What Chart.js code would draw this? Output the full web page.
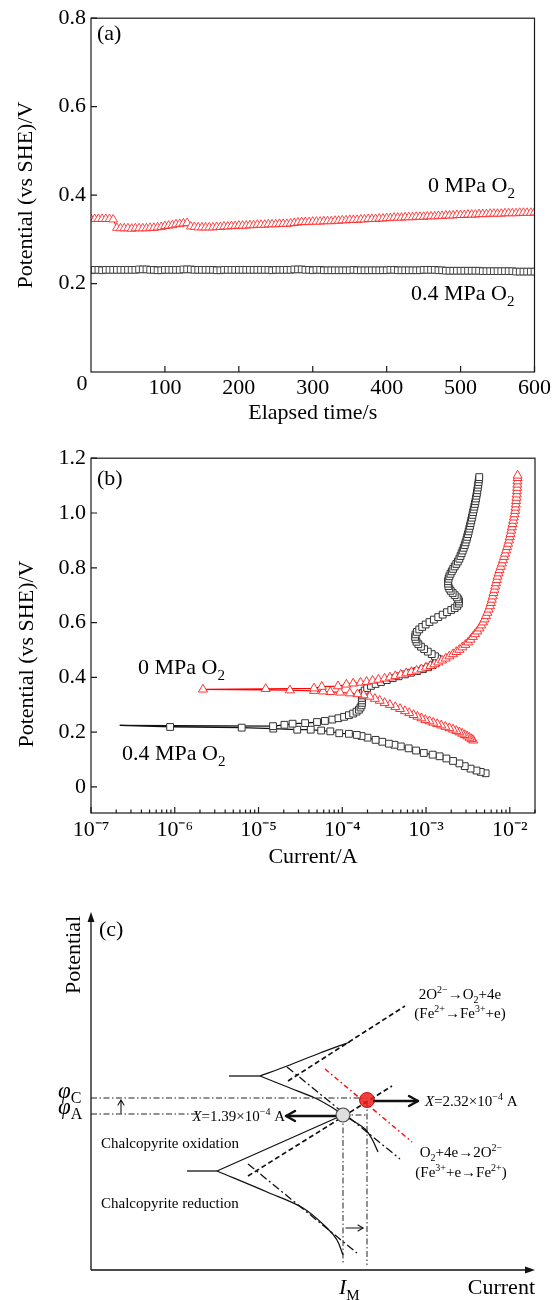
<!DOCTYPE html>
<html><head><meta charset="utf-8">
<script src="https://cdn.jsdelivr.net/npm/chart.js@4"></script>
<style>
html,body{margin:0;padding:0;background:#fff;}
body{width:554px;height:1300px;position:relative;overflow:hidden;}
canvas{position:absolute;left:0;}
</style></head><body>
<canvas id="ca" width="554" height="440" style="top:0px"></canvas>
<canvas id="cb" width="554" height="440" style="top:440px"></canvas>
<canvas id="cc" width="554" height="420" style="top:880px"></canvas>
<script>
const FONT = "'Liberation Serif','Times New Roman',serif";
Chart.defaults.font.family = FONT;
Chart.defaults.color = '#000';

// ---------- Panel (a): open-circuit potential vs time ----------
const timeA = [0,5,10,15,20,25,30,35,40,45,50,55,60,65,70,75,80,85,90,95,
 100,105,110,115,120,125,130,135,140,145,150,155,160,165,170,175,180,185,190,195,
 200,205,210,215,220,225,230,235,240,245,250,255,260,265,270,275,280,285,290,295,
 300,305,310,315,320,325,330,335,340,345,350,355,360,365,370,375,380,385,390,395,
 400,405,410,415,420,425,430,435,440,445,450,455,460,465,470,475,480,485,490,495,
 500,505,510,515,520,525,530,535,540,545,550,555,560,565,570,575,580,585,590,595,600];
const potA_0MPa = [
 .346,.346,.346,.346,.346,.346,.345,.326,.325,.325,
 .325,.324,.325,.325,.325,.325,.326,.326,.327,.328,
 .330,.331,.332,.334,.335,.336,.337,.329,.328,.327,
 .327,.327,.327,.327,.328,.328,.329,.329,.330,.330,
 .331,.331,.331,.332,.332,.333,.333,.333,.334,.334,
 .334,.335,.335,.335,.336,.337,.338,.339,.339,.339,
 .340,.340,.340,.341,.341,.341,.342,.342,.343,.343,
 .344,.344,.344,.345,.345,.346,.346,.346,.347,.347,
 .348,.348,.349,.349,.349,.350,.350,.350,.351,.351,
 .351,.352,.352,.352,.353,.353,.354,.354,.354,.355,
 .355,.355,.356,.356,.356,.357,.357,.357,.358,.358,
 .358,.358,.359,.359,.359,.359,.360,.360,.360,.360,.361];
const potA_04MPa = [
 .230,.231,.231,.230,.231,.231,.231,.231,.231,.231,
 .231,.231,.231,.232,.232,.232,.231,.231,.230,.230,
 .231,.231,.231,.231,.231,.232,.232,.232,.231,.231,
 .231,.231,.231,.231,.230,.230,.231,.231,.231,.231,
 .231,.231,.231,.231,.231,.231,.231,.231,.231,.230,
 .231,.231,.231,.231,.231,.232,.232,.232,.231,.231,
 .230,.231,.231,.230,.230,.230,.230,.230,.230,.230,
 .230,.231,.230,.230,.230,.230,.230,.230,.230,.230,
 .230,.231,.231,.230,.230,.230,.230,.230,.230,.230,
 .231,.231,.231,.231,.230,.230,.229,.229,.229,.229,
 .229,.229,.229,.229,.229,.229,.228,.228,.228,.228,
 .228,.228,.228,.228,.228,.227,.227,.227,.227,.227,.227];
const xTicksA = [100,200,300,400,500,600];
const yTicksA = [0.2,0.4,0.6,0.8];

// ---------- Panel (b): polarization curves ----------
const curB_0MPa = [3.66e-3,3.5e-3,3.3e-3,3.1e-3,2.9e-3,2.7e-3,2.5e-3,2.3e-3,2.1e-3,1.9e-3,
 1.7e-3,1.52e-3,1.36e-3,1.22e-3,1.1e-3,9.8e-4,8.8e-4,7.9e-4,7.1e-4,6.3e-4,
 5.6e-4,4.9e-4,4.3e-4,3.7e-4,3.2e-4,2.8e-4,2.45e-4,2.12e-4,1.8e-4,1.52e-4,
 1.23e-4,9.4e-5,7.2e-5,5.9e-5,4.6e-5,2.37e-5,2.17e-6,
 1.22e-5,4.6e-5,5.7e-5,8.9e-5,1.12e-4,1.35e-4,1.65e-4,1.95e-4,2.3e-4,2.7e-4,
 3.2e-4,3.7e-4,4.3e-4,5e-4,5.8e-4,6.7e-4,7.7e-4,8.8e-4,1e-3,1.13e-3,
 1.26e-3,1.4e-3,1.55e-3,1.72e-3,1.9e-3,2.1e-3,2.3e-3,2.5e-3,2.72e-3,2.95e-3,
 3.18e-3,3.4e-3,3.62e-3,3.85e-3,4.1e-3,4.35e-3,4.58e-3,4.8e-3,5e-3,5.2e-3,
 5.4e-3,5.6e-3,5.8e-3,5.95e-3,6.1e-3,6.25e-3,6.4e-3,6.55e-3,6.7e-3,6.85e-3,
 7e-3,7.15e-3,7.35e-3,7.55e-3,7.8e-3,8.05e-3,8.3e-3,8.55e-3,8.8e-3,9.05e-3,
 9.3e-3,9.55e-3,9.8e-3,1e-2,1.02e-2,1.04e-2,1.06e-2,1.08e-2,1.1e-2,1.12e-2,
 1.14e-2,1.16e-2,1.17e-2,1.18e-2,1.19e-2,1.2e-2,1.21e-2,1.22e-2,1.225e-2,1.23e-2,
 1.235e-2,1.24e-2,1.24e-2];
const potB_0MPa = [0.17,0.175,0.18,0.185,0.19,0.195,0.2,0.205,0.21,0.215,
 0.22,0.225,0.23,0.235,0.24,0.245,0.251,0.257,0.263,0.27,
 0.277,0.285,0.292,0.3,0.307,0.315,0.322,0.33,0.335,0.339,
 0.342,0.345,0.347,0.349,0.351,0.353,0.356,
 0.358,0.36,0.366,0.368,0.374,0.378,0.381,0.384,0.388,0.392,
 0.396,0.4,0.405,0.41,0.415,0.42,0.425,0.43,0.436,0.442,
 0.448,0.455,0.462,0.469,0.477,0.485,0.493,0.501,0.51,0.519,
 0.528,0.538,0.548,0.558,0.568,0.579,0.59,0.601,0.612,0.624,
 0.636,0.648,0.66,0.672,0.684,0.696,0.708,0.72,0.732,0.744,
 0.756,0.768,0.78,0.792,0.804,0.816,0.828,0.84,0.852,0.864,
 0.876,0.888,0.9,0.912,0.924,0.936,0.948,0.96,0.972,0.984,
 0.996,1.008,1.02,1.032,1.044,1.056,1.068,1.08,1.092,1.104,
 1.116,1.128,1.137];
const curB_04MPa = [5.15e-3,4.5e-3,4e-3,3.4e-3,2.9e-3,2.5e-3,2.1e-3,1.75e-3,1.45e-3,1.2e-3,
 9.4e-4,7.6e-4,6.2e-4,5e-4,4.2e-4,3.6e-4,3e-4,2.5e-4,2e-4,1.7e-4,
 1.49e-4,1.2e-4,9.2e-5,7.2e-5,5.6e-5,4.2e-5,2.9e-5,1.5e-5,6.3e-6,8.8e-7,2.2e-7,
 1.49e-5,2.04e-5,2.55e-5,3.6e-5,5e-5,6.2e-5,7.6e-5,9e-5,1.05e-4,1.2e-4,
 1.35e-4,1.48e-4,1.58e-4,1.65e-4,1.7e-4,1.72e-4,1.72e-4,1.71e-4,1.72e-4,1.76e-4,
 1.85e-4,1.98e-4,2.2e-4,2.5e-4,2.9e-4,3.4e-4,4e-4,4.7e-4,5.6e-4,6.6e-4,
 7.8e-4,9.2e-4,1.06e-3,1.2e-3,1.31e-3,1.37e-3,1.36e-3,1.28e-3,1.17e-3,1.05e-3,
 9.5e-4,8.7e-4,8.1e-4,7.7e-4,7.5e-4,7.4e-4,7.5e-4,7.8e-4,8.3e-4,9e-4,
 9.9e-4,1.1e-3,1.24e-3,1.4e-3,1.58e-3,1.78e-3,2e-3,2.2e-3,2.36e-3,2.46e-3,
 2.48e-3,2.43e-3,2.33e-3,2.2e-3,2.08e-3,1.97e-3,1.9e-3,1.85e-3,1.83e-3,1.83e-3,
 1.86e-3,1.9e-3,1.96e-3,2.03e-3,2.11e-3,2.2e-3,2.3e-3,2.4e-3,2.5e-3,
 2.58e-3,2.66e-3,2.74e-3,2.82e-3,2.9e-3,2.97e-3,3.04e-3,3.1e-3,3.17e-3,3.23e-3,
 3.29e-3,3.35e-3,3.41e-3,3.47e-3,3.53e-3,3.59e-3,3.65e-3,3.71e-3,3.77e-3,3.83e-3,
 3.89e-3,3.95e-3,4e-3,4.05e-3,4.1e-3,4.15e-3,4.2e-3,4.24e-3,4.28e-3,4.32e-3];
const potB_04MPa = [0.05,0.055,0.06,0.067,0.076,0.086,0.095,0.104,0.112,0.118,
 0.124,0.133,0.141,0.148,0.154,0.158,0.165,0.172,0.18,0.186,
 0.19,0.194,0.196,0.203,0.206,0.209,0.209,0.213,0.2165,0.219,0.2248,
 0.222,0.227,0.231,0.233,0.237,0.241,0.246,0.251,0.256,0.262,
 0.268,0.275,0.282,0.29,0.298,0.307,0.316,0.325,0.334,0.343,
 0.352,0.361,0.369,0.376,0.383,0.39,0.397,0.404,0.411,0.417,
 0.423,0.43,0.437,0.445,0.453,0.461,0.469,0.477,0.485,0.494,
 0.503,0.512,0.521,0.53,0.539,0.548,0.557,0.566,0.575,0.584,
 0.593,0.602,0.611,0.62,0.629,0.638,0.646,0.653,0.661,0.669,
 0.677,0.685,0.692,0.7,0.708,0.716,0.724,0.733,0.742,0.751,
 0.76,0.769,0.778,0.787,0.796,0.805,0.814,0.823,0.833,
 0.843,0.853,0.863,0.873,0.883,0.893,0.903,0.913,0.923,0.933,
 0.943,0.953,0.963,0.973,0.983,0.993,1.003,1.013,1.023,1.033,
 1.043,1.053,1.063,1.073,1.083,1.093,1.103,1.113,1.123,1.131];
const decadesB = [-7,-6,-5,-4,-3,-2];
const yTicksB = [0,0.2,0.4,0.6,0.8,1.0,1.2];

// ---------- Panel (c): schematic (units: schematic current / potential) ----------
const forkO2_flat = [[138,194],[169,194]];
const forkO2_upper = [[169,194],[196,204],[229,217],[259,228]];
const forkO2_lower = [[169,194],[199,182],[224,172],[242,162],[252,155],[264,148],[274,141],[281,131],[287,118]];
const forkCp_flat = [[96,99],[126,99]];
const forkCp_upper = [[126,99],[252,155]];
const forkCp_lower = [[126,99],[176,78],[212,62],[236,42],[246,30],[252,15]];
const tafelO2_anodic = [[197,189],[314,264]];
const tafelO2_cathodic = [[196,203],[309,111]];
const tafelCp_anodic = [[157,94],[301,184]];
const tafelCp_cathodic = [[157,106],[266,17]];
const tafelShifted = [[234,201],[321,128]];
const refPhiC = [[0,172],[276,172]];
const refPhiA = [[0,156],[106,156]];
const refIM = [[252,155],[252,5]];
const refIX = [[276,169],[276,5]];
const refShort = [[252,155],[276,155]];
const pointMixed = [[252,155]];
const pointShifted = [[276,170]];
const arrowsBold = [[244,154,195,154],[283,169,327,169]];
const arrowsThin = [[30,157,30,170],[255,42,272,42]];

// ---------- helpers ----------
function pairs(xs, ys){ return xs.map((x,i)=>({x:x, y:ys[i]})); }
function pts(a){ return a.map(p=>({x:p[0], y:p[1]})); }
const SUP = {'-':'\u207B','0':'\u2070','1':'\u00B9','2':'\u00B2','3':'\u00B3','4':'\u2074','5':'\u2075','6':'\u2076','7':'\u2077','8':'\u2078','9':'\u2079'};
function supStr(n){ return String(n).split('').map(c=>SUP[c]).join(''); }

function drawRich(ctx, parts, x, yc, size, align){
  const small = Math.round(size*0.68);
  const f = p => (p.it?'italic ':'') + ((p.sub||p.sup)?small:(p.size||size)) + 'px ' + FONT;
  let w = 0;
  parts.forEach(p=>{ ctx.font=f(p); w += ctx.measureText(p.t).width; });
  let cx = align==='right' ? x-w : (align==='center' ? x-w/2 : x);
  const base = yc + size*0.34;
  ctx.textBaseline='alphabetic'; ctx.textAlign='left'; ctx.fillStyle='#000';
  parts.forEach(p=>{
    ctx.font=f(p);
    const dy = p.sub ? size*0.24 : (p.sup ? -size*0.40 : 0);
    ctx.fillText(p.t, cx, base+dy);
    cx += ctx.measureText(p.t).width;
  });
}

function frameTicks(xKind, yKind){
  return { id:'frameTicks', afterDraw(chart){
    const ctx = chart.ctx, a = chart.chartArea, sx = chart.scales.x, sy = chart.scales.y;
    ctx.save();
    ctx.strokeStyle='#1a1a1a'; ctx.lineWidth=1.2;
    ctx.strokeRect(a.left, a.top, a.right-a.left, a.bottom-a.top);
    ctx.beginPath();
    sx.ticks.forEach(t=>{
      const k = xKind(t.value); if(!k) return;
      const p = sx.getPixelForValue(t.value);
      if (p < a.left-0.5 || p > a.right+0.5) return;
      const L = k==='major' ? 6 : 3.5;
      ctx.moveTo(p, a.bottom); ctx.lineTo(p, a.bottom-L);
    });
    sy.ticks.forEach(t=>{
      const k = yKind(t.value); if(!k) return;
      const p = sy.getPixelForValue(t.value);
      if (p < a.top-0.5 || p > a.bottom+0.5) return;
      ctx.moveTo(a.left, p); ctx.lineTo(a.left+6, p);
    });
    ctx.stroke();
    ctx.restore();
  }};
}
function textPlugin(items){
  return { id:'texts', afterDraw(chart){
    const ctx = chart.ctx;
    ctx.save();
    items.forEach(it=>{
      if (it.rot){
        ctx.save(); ctx.translate(it.x, it.y); ctx.rotate(-Math.PI/2);
        ctx.font = it.size+'px '+FONT; ctx.textAlign='center'; ctx.textBaseline='middle'; ctx.fillStyle='#000';
        ctx.fillText(it.text, 0, 0); ctx.restore();
      } else {
        drawRich(ctx, it.parts, it.x, it.y, it.size, it.align||'left');
      }
    });
    ctx.restore();
  }};
}
const near = (arr, v) => arr.some(t => Math.abs(t-v) < 1e-6);

// ---------- Chart (a) ----------
new Chart(document.getElementById('ca'), {
  type:'line',
  data:{ datasets:[
    {label:'0 MPa O2', data:pairs(timeA, potA_0MPa), borderColor:'#ff0000', borderWidth:1,
     pointStyle:'triangle', pointRadius:5, pointBorderColor:'rgba(255,30,30,0.9)', pointBackgroundColor:'#ffffff', pointBorderWidth:0.9},
    {label:'0.4 MPa O2', data:pairs(timeA, potA_04MPa), borderColor:'#222', borderWidth:1,
     pointStyle:'rect', pointRadius:4.7, pointBorderColor:'#333', pointBackgroundColor:'#ffffff', pointBorderWidth:0.9}
  ]},
  options:{
    responsive:false, animation:false, events:[],
    layout:{padding:{left:0,right:19,top:14,bottom:0}},
    plugins:{legend:{display:false}, tooltip:{enabled:false}},
    scales:{
      x:{type:'linear', min:0, max:600,
         grid:{display:false, drawTicks:false}, border:{display:false},
         ticks:{stepSize:100, padding:3, font:{size:22}, autoSkip:false, maxRotation:0,
                callback:v=> xTicksA.includes(v) ? String(v) : ''},
         title:{display:true, text:'Elapsed time/s', font:{size:22}, padding:{top:0,bottom:14}},
         afterFit:s=>{ s.height = 68; }},
      y:{type:'linear', min:0, max:0.8,
         grid:{display:false, drawTicks:false}, border:{display:false},
         ticks:{stepSize:0.2, padding:5, font:{size:22},
                callback:v=> near(yTicksA, v) ? v.toFixed(1) : ''},
         title:{display:true, text:'Potential (vs SHE)/V', font:{size:22}, padding:{top:13,bottom:0}},
         afterFit:s=>{ s.width = 91; }}
    }
  },
  plugins:[
    frameTicks(v=> xTicksA.includes(v) ? 'major' : null, v=> near(yTicksA, v) ? 'major' : null),
    textPlugin([
      {parts:[{t:'(a)'}], x:97, y:33, size:22},
      {parts:[{t:'0 MPa O'},{t:'2',sub:true}], x:428, y:185, size:22},
      {parts:[{t:'0.4 MPa O'},{t:'2',sub:true}], x:411, y:293, size:22},
      {parts:[{t:'0'}], x:82, y:383, size:22, align:'center'}
    ])
  ]
});

// ---------- Chart (b) ----------
function logKind(v){
  const e = Math.log10(v), r = Math.round(e);
  if (Math.abs(e-r) < 1e-6) return decadesB.includes(r) ? 'major' : null;
  const s = v / Math.pow(10, Math.floor(e));
  return Math.abs(s-Math.round(s)) < 1e-6 ? 'minor' : null;
}
new Chart(document.getElementById('cb'), {
  type:'line',
  data:{ datasets:[
    {label:'0 MPa O2', data:pairs(curB_0MPa, potB_0MPa), borderColor:'#ff0000', borderWidth:1.2,
     pointStyle:'triangle', pointRadius:5.2, pointBorderColor:'rgba(255,40,40,0.95)', pointBackgroundColor:'#ffffff', pointBorderWidth:1},
    {label:'0.4 MPa O2', data:pairs(curB_04MPa, potB_04MPa), borderColor:'#111', borderWidth:1.2,
     pointStyle:'rect', pointRadius:c => (c.raw && c.raw.x < 5e-7) ? 0 : 4.8,
     pointBorderColor:'#333', pointBackgroundColor:'#ffffff', pointBorderWidth:1}
  ]},
  options:{
    responsive:false, animation:false, events:[],
    layout:{padding:{left:0,right:19,top:16,bottom:0}},
    plugins:{legend:{display:false}, tooltip:{enabled:false}},
    scales:{
      x:{type:'logarithmic', min:1e-7, max:0.02,
         grid:{display:false, drawTicks:false}, border:{display:false},
         ticks:{autoSkip:false, maxRotation:0, minRotation:0, padding:4, font:{size:22},
                callback:v=>{ const e=Math.log10(v), r=Math.round(e);
                  return (Math.abs(e-r)<1e-6 && decadesB.includes(r)) ? '10'+supStr(r) : ''; }},
         title:{display:true, text:'Current/A', font:{size:22}, padding:{top:0,bottom:10}},
         afterFit:s=>{ s.height = 67; }},
      y:{type:'linear', min:-0.095, max:1.2,
         grid:{display:false, drawTicks:false}, border:{display:false},
         ticks:{stepSize:0.2, includeBounds:false, padding:5, font:{size:22},
                callback:v=> near(yTicksB, v) ? (Math.abs(v)<1e-9 ? '0' : v.toFixed(1)) : ''},
         title:{display:false},
         afterFit:s=>{ s.width = 91; }}
    }
  },
  plugins:[
    frameTicks(logKind, v=> near(yTicksB, v) ? 'major' : null),
    textPlugin([
      {parts:[{t:'(b)'}], x:97, y:38, size:22},
      {parts:[{t:'0 MPa O'},{t:'2',sub:true}], x:138, y:227, size:22},
      {parts:[{t:'0.4 MPa O'},{t:'2',sub:true}], x:122, y:313, size:22},
      {rot:true, text:'Potential (vs SHE)/V', x:27, y:214, size:22}
    ])
  ]
});

// ---------- Chart (c) ----------
const solid = {borderColor:'#111', borderWidth:1.3, borderDash:[]};
const dashed = {borderColor:'#111', borderWidth:1.7, borderDash:[5,3]};
const dashDot = {borderColor:'#111', borderWidth:1.3, borderDash:[8,3,2,3]};
const refLine = {borderColor:'#222', borderWidth:1, borderDash:[6,2.5,1.5,2.5]};
function lineDS(arr, style, tension){
  return Object.assign({data:pts(arr), showLine:true, pointRadius:0, tension:tension||0, fill:false}, style);
}
const schematic = { id:'schematic', afterDraw(chart){
  const ctx = chart.ctx, sx = chart.scales.x, sy = chart.scales.y;
  const X = v=>sx.getPixelForValue(v), Y = v=>sy.getPixelForValue(v);
  ctx.save();
  ctx.strokeStyle='#111'; ctx.fillStyle='#111'; ctx.lineWidth=1.3;
  // axes
  ctx.beginPath(); ctx.moveTo(X(0), Y(0)); ctx.lineTo(X(0), Y(358)+4); ctx.stroke();
  ctx.beginPath(); ctx.moveTo(X(0), Y(0)); ctx.lineTo(X(444)-4, Y(0)); ctx.stroke();
  ctx.beginPath(); ctx.moveTo(X(0), Y(358)); ctx.lineTo(X(0)-3.5, Y(358)+10); ctx.lineTo(X(0)+3.5, Y(358)+10); ctx.closePath(); ctx.fill();
  ctx.beginPath(); ctx.moveTo(X(444), Y(0)); ctx.lineTo(X(444)-10, Y(0)-3.5); ctx.lineTo(X(444)-10, Y(0)+3.5); ctx.closePath(); ctx.fill();
  // arrows
  function arrow(a, w, hl, hw){
    const x1=X(a[0]), y1=Y(a[1]), x2=X(a[2]), y2=Y(a[3]);
    const ang = Math.atan2(y2-y1, x2-x1);
    ctx.lineWidth=w; ctx.lineCap='round'; ctx.lineJoin='round';
    ctx.beginPath(); ctx.moveTo(x1,y1); ctx.lineTo(x2,y2); ctx.stroke();
    ctx.beginPath();
    ctx.moveTo(x2 - hl*Math.cos(ang) + hw*Math.sin(ang), y2 - hl*Math.sin(ang) - hw*Math.cos(ang));
    ctx.lineTo(x2, y2);
    ctx.lineTo(x2 - hl*Math.cos(ang) - hw*Math.sin(ang), y2 - hl*Math.sin(ang) + hw*Math.cos(ang));
    ctx.stroke();
  }
  arrowsBold.forEach(a=>arrow(a, 2.4, 9, 5));
  arrowsThin.forEach(a=>arrow(a, 1.1, 5, 3));
  ctx.restore();
}};
new Chart(document.getElementById('cc'), {
  type:'scatter',
  data:{ datasets:[
    {data:pts(pointShifted), pointRadius:7.5, pointBackgroundColor:'rgba(238,30,30,0.85)', pointBorderColor:'rgba(200,0,0,0.9)', pointBorderWidth:1, showLine:false},
    {data:pts(pointMixed), pointRadius:7, pointBackgroundColor:'#dedede', pointBorderColor:'#444', pointBorderWidth:1.2, showLine:false},
    lineDS(forkO2_flat, solid), lineDS(forkO2_upper, solid, 0.3), lineDS(forkO2_lower, solid, 0.35),
    lineDS(forkCp_flat, solid), lineDS(forkCp_upper, solid), lineDS(forkCp_lower, solid, 0.35),
    lineDS(tafelO2_anodic, dashed), lineDS(tafelCp_anodic, dashed),
    lineDS(tafelO2_cathodic, dashDot), lineDS(tafelCp_cathodic, dashDot),
    lineDS(tafelShifted, {borderColor:'#ff1010', borderWidth:1.5, borderDash:[5,3,1.5,3]}),
    lineDS(refPhiC, refLine), lineDS(refPhiA, refLine), lineDS(refIM, refLine), lineDS(refIX, refLine), lineDS(refShort, refLine)
  ]},
  options:{
    responsive:false, animation:false, events:[],
    layout:{padding:{left:91,right:19,top:32,bottom:30}},
    plugins:{legend:{display:false}, tooltip:{enabled:false}},
    scales:{ x:{type:'linear', display:false, min:0, max:444}, y:{type:'linear', display:false, min:0, max:358} }
  },
  plugins:[ schematic, textPlugin([
    {rot:true, text:'Potential', x:74, y:75, size:22},
    {parts:[{t:'(c)'}], x:99, y:49, size:22},
    {parts:[{t:'\u03C6',it:true},{t:'C',sub:true}], x:58, y:210, size:23},
    {parts:[{t:'\u03C6',it:true},{t:'A',sub:true}], x:58, y:226, size:23},
    {parts:[{t:'X',it:true},{t:'=1.39\u00D710'},{t:'\u22124',sup:true},{t:' A'}], x:285, y:236, size:15, align:'right'},
    {parts:[{t:'X',it:true},{t:'=2.32\u00D710'},{t:'\u22124',sup:true},{t:' A'}], x:425, y:221, size:15},
    {parts:[{t:'2O'},{t:'2\u2212',sup:true},{t:'\u2192O'},{t:'2',sub:true},{t:'+4e'}], x:460, y:114, size:15, align:'center'},
    {parts:[{t:'(Fe'},{t:'2+',sup:true},{t:'\u2192Fe'},{t:'3+',sup:true},{t:'+e)'}], x:460, y:133, size:15, align:'center'},
    {parts:[{t:'O'},{t:'2',sub:true},{t:'+4e\u21922O'},{t:'2\u2212',sup:true}], x:461, y:272, size:15, align:'center'},
    {parts:[{t:'(Fe'},{t:'3+',sup:true},{t:'+e\u2192Fe'},{t:'2+',sup:true},{t:')'}], x:461, y:292, size:15, align:'center'},
    {parts:[{t:'Chalcopyrite oxidation'}], x:101, y:263, size:15},
    {parts:[{t:'Chalcopyrite reduction'}], x:101, y:323, size:15},
    {parts:[{t:'Current'}], x:535, y:407, size:22, align:'right'},
    {parts:[{t:'I',it:true},{t:'M',sub:true}], x:339, y:407, size:22}
  ]) ]
});
</script>
</body></html>
